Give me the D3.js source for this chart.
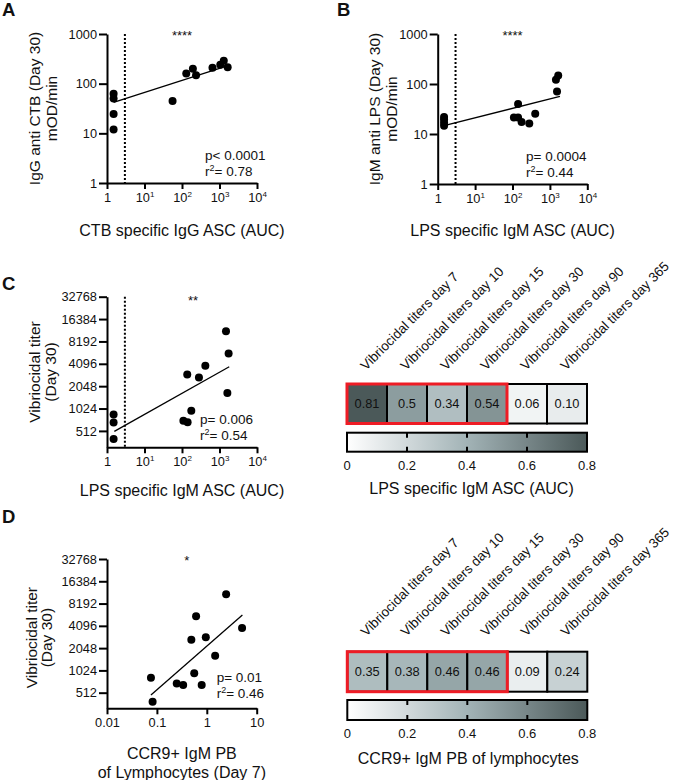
<!DOCTYPE html>
<html><head><meta charset="utf-8">
<script src="https://cdn.jsdelivr.net/npm/d3@7"></script>
<style>
body{margin:0;background:#fff}
svg{display:block}
text{font-family:"Liberation Sans",Arial,sans-serif;fill:#111}
</style>
</head><body>
<svg id="chart" width="675" height="780"></svg>
<script>
// ---------------- DATA ----------------
// Panel A: CTB specific IgG ASC (AUC) vs IgG anti CTB (Day 30)
const aX = [1.5, 1.5, 1.5, 1.5, 56, 130, 195, 237, 650, 1050, 1300, 1650];
const aY = [63, 50, 24.6, 12, 45, 160, 200, 147, 210, 240, 290, 215];
const aFitX = [1.5, 1860];
const aFitY = [42, 235];
// Panel B: LPS specific IgM ASC (AUC) vs IgM anti LPS (Day 30)
const bX = [1.48, 1.48, 1.48, 1.48, 109, 141, 141, 175, 281, 405, 1550, 1450, 1670];
const bY = [22, 19.5, 16.8, 14.6, 21.5, 40, 21.5, 17.4, 16.3, 25.5, 71, 122, 148];
const bFitX = [1.48, 1860];
const bFitY = [14.7, 56.6];
// Panel C: LPS specific IgM ASC (AUC) vs Vibriocidal titer (Day 30)
const cX = [1.5, 1.5, 1.5, 109, 141, 177, 138, 283, 419, 1490, 1750, 1620];
const cY = [850, 662, 399, 699, 670, 955, 2950, 2680, 3870, 11260, 5630, 1660];
const cFitX = [1.57, 1820];
const cFitY = [505, 3740];
// Panel D: CCR9+ IgM PB of lymphocytes (Day 7) vs Vibriocidal titer (Day 30)
const dX = [0.076, 0.082, 0.25, 0.336, 0.49, 0.61, 0.56, 0.955, 0.79, 1.47, 2.44, 5.09];
const dY = [813, 387, 683, 650, 2650, 5510, 935, 2880, 650, 1620, 10960, 3820];
const dFitX = [0.076, 5.17];
const dFitY = [477, 5750];

const ascTicks = [1, 10, 100, 1000, 10000];
const odTicks = [1, 10, 100, 1000];
const titerTicks = [512, 1024, 2048, 4096, 8192, 16384, 32768];
const pbTicks = [0.01, 0.1, 1, 10];
const pbTickLabels = ["0.01", "0.1", "1", "10"];

// Heatmaps
const heatCols = ["Vibriocidal titers day 7", "Vibriocidal titers day 10", "Vibriocidal titers day 15",
                  "Vibriocidal titers day 30", "Vibriocidal titers day 90", "Vibriocidal titers day 365"];
const heatCValues = [0.81, 0.5, 0.34, 0.54, 0.06, 0.10];
const heatCLabels = ["0.81", "0.5", "0.34", "0.54", "0.06", "0.10"];
const heatDValues = [0.35, 0.38, 0.46, 0.46, 0.09, 0.24];
const heatDLabels = ["0.35", "0.38", "0.46", "0.46", "0.09", "0.24"];
const highlightCount = 4;
const cbarTicks = [0, 0.2, 0.4, 0.6, 0.8];
const cbarTickLabels = ["0", "0.2", "0.4", "0.6", "0.8"];

// ---------------- DRAWING ----------------
const svg = d3.select('#chart');
const FONT = '"Liberation Sans", Arial, sans-serif';

function panelLetter(t, x, y) {
  svg.append('text').attr('x', x).attr('y', y).attr('font-size', 18.5).attr('font-weight', 'bold').text(t);
}

function scatter(o) {
  const g = svg.append('g');
  const x = d3.scaleLog().domain(o.xDomain).range(o.xRange);
  const y = d3.scaleLog().base(o.yBase).domain(o.yDomain).range(o.yRange);

  const ya = d3.axisLeft(y).tickValues(o.yTicks).tickFormat(d3.format('d'))
      .tickSize(8).tickPadding(2).tickSizeOuter(0);
  const yg = g.append('g').attr('transform', `translate(${o.xRange[0]},0)`).call(ya);
  const xa = d3.axisBottom(x).tickValues(o.xTicks).tickSize(6).tickPadding(4).tickSizeOuter(0);
  const xg = g.append('g').attr('transform', `translate(0,${o.yRange[0]})`).call(xa);

  [yg, xg].forEach(a => {
    a.attr('font-family', FONT).attr('font-size', 12.8);
    a.selectAll('.domain,.tick line').attr('stroke', '#000').attr('stroke-width', 2);
    a.selectAll('.tick text').attr('fill', '#111');
  });
  if (o.xSup) {
    xg.selectAll('.tick text').each(function(d) {
      const t = d3.select(this);
      if (d === 1) { t.text('1'); return; }
      const e = Math.round(Math.log10(d));
      t.text(null);
      t.append('tspan').text('10');
      t.append('tspan').attr('font-size', 8).attr('dy', -5).text(e);
    });
  } else {
    xg.selectAll('.tick text').text((d, i) => o.xTickLabels[i]);
  }

  if (o.cutoff) {
    g.append('line').attr('x1', x(o.cutoff)).attr('x2', x(o.cutoff))
      .attr('y1', o.yRange[1]).attr('y2', o.yRange[0])
      .attr('stroke', '#000').attr('stroke-width', 2).attr('stroke-dasharray', '2,2');
  }
  g.append('line').attr('x1', x(o.fitX[0])).attr('y1', y(o.fitY[0]))
    .attr('x2', x(o.fitX[1])).attr('y2', y(o.fitY[1]))
    .attr('stroke', '#000').attr('stroke-width', 1.3);

  g.selectAll('circle.pt').data(o.xs.map((v, i) => [v, o.ys[i]])).join('circle')
    .attr('class', 'pt').attr('cx', d => x(d[0])).attr('cy', d => y(d[1])).attr('r', 4).attr('fill', '#000');

  // stars
  g.append('text').attr('x', o.star[0]).attr('y', o.star[1]).attr('text-anchor', 'middle')
    .attr('font-size', 13).text(o.star[2]);
  // stats
  g.append('text').attr('x', o.stat[0]).attr('y', o.stat[1]).attr('font-size', 13.5).text(o.pText);
  const r = g.append('text').attr('x', o.stat[0]).attr('y', o.stat[1] + 16).attr('font-size', 13.5);
  r.append('tspan').text('r');
  r.append('tspan').attr('font-size', 9).attr('dy', -5).text('2');
  r.append('tspan').attr('dy', 5).text('= ' + o.r2);

  // y title
  const cy = (o.yRange[0] + o.yRange[1]) / 2 + (o.yTitleShift || 0);
  o.yTitle.forEach((t, i) => {
    g.append('text').attr('transform', `translate(${o.yTitleX[i]},${cy}) rotate(-90)`)
      .attr('text-anchor', 'middle').attr('font-size', 15.5).text(t);
  });
  // x title
  const cx = (o.xRange[0] + o.xRange[1]) / 2;
  o.xTitle.forEach((t, i) => {
    g.append('text').attr('x', cx).attr('y', o.xTitleY + i * 19).attr('text-anchor', 'middle')
      .attr('font-size', 16).text(t);
  });
}

const heatColor = d3.scaleLinear().domain([0, 0.4, 0.8]).range(['#ffffff', '#a2b3b6', '#4b5959']).clamp(true);

function heatmap(o) {
  const g = svg.append('g');
  const x = d3.scaleBand().domain(heatCols).range([o.x0, o.x1]);
  const bw = x.bandwidth();
  // column labels
  heatCols.forEach(c => {
    g.append('text').attr('transform', `translate(${x(c) + bw / 2 - 1},${o.labelY}) rotate(-45)`)
      .attr('font-size', 13.5).text(c);
  });
  // cells
  heatCols.forEach((c, i) => {
    g.append('rect').attr('x', x(c)).attr('y', o.y0).attr('width', bw).attr('height', o.h)
      .attr('fill', heatColor(o.values[i])).attr('stroke', '#000').attr('stroke-width', 2);
    g.append('text').attr('x', x(c) + bw / 2).attr('y', o.y0 + o.h / 2).attr('dy', '0.35em')
      .attr('text-anchor', 'middle').attr('font-size', 12.8).attr('fill', '#1a1a1a').text(o.labels[i]);
  });
  // highlight box
  g.append('rect').attr('x', o.x0).attr('y', o.y0)
    .attr('width', x(heatCols[highlightCount - 1]) + bw - o.x0).attr('height', o.h)
    .attr('fill', 'none').attr('stroke', '#ee1c25').attr('stroke-width', 3);

  // colorbar
  const gid = 'grad' + o.id;
  const grad = svg.append('defs').append('linearGradient').attr('id', gid);
  [0, 0.25, 0.5, 0.75, 1].forEach(f => {
    grad.append('stop').attr('offset', f).attr('stop-color', heatColor(f * 0.8));
  });
  const cs = d3.scaleLinear().domain([0, 0.8]).range([o.x0, o.x1]);
  g.append('rect').attr('x', o.x0).attr('y', o.cbY).attr('width', o.x1 - o.x0).attr('height', o.cbH)
    .attr('fill', `url(#${gid})`).attr('stroke', '#000').attr('stroke-width', 2);
  cbarTicks.forEach((t, i) => {
    if (i > 0 && i < cbarTicks.length - 1) {
      g.append('line').attr('x1', cs(t)).attr('x2', cs(t)).attr('y1', o.cbY).attr('y2', o.cbY + 5)
        .attr('stroke', '#000').attr('stroke-width', 2);
      g.append('line').attr('x1', cs(t)).attr('x2', cs(t)).attr('y1', o.cbY + o.cbH - 5).attr('y2', o.cbY + o.cbH)
        .attr('stroke', '#000').attr('stroke-width', 2);
    }
    g.append('text').attr('x', cs(t)).attr('y', o.cbY + o.cbH + 18).attr('text-anchor', 'middle')
      .attr('font-size', 13).text(cbarTickLabels[i]);
  });
  g.append('text').attr('x', o.titleX).attr('y', o.titleY).attr('text-anchor', 'middle')
    .attr('font-size', 16).text(o.title);
}

// Panel letters
panelLetter('A', 2, 16);
panelLetter('B', 337, 16);
panelLetter('C', 2, 290);
panelLetter('D', 2, 523);

scatter({
  xs: aX, ys: aY, fitX: aFitX, fitY: aFitY,
  xDomain: [1, 10000], xRange: [107, 257], yBase: 10, yDomain: [1, 1000], yRange: [183, 34],
  yTicks: odTicks, xTicks: ascTicks, xSup: true, cutoff: 3,
  star: [182, 40, '****'], stat: [205, 160], pText: 'p< 0.0001', r2: '0.78',
  yTitle: ['IgG anti CTB (Day 30)', 'mOD/min'], yTitleX: [40, 57],
  xTitle: ['CTB specific IgG ASC (AUC)'], xTitleY: 236
});
scatter({
  xs: bX, ys: bY, fitX: bFitX, fitY: bFitY,
  xDomain: [1, 10000], xRange: [437.7, 587.3], yBase: 10, yDomain: [1, 1000], yRange: [184, 34],
  yTicks: odTicks, xTicks: ascTicks, xSup: true, cutoff: 3,
  star: [512.5, 40, '****'], stat: [526, 161], pText: 'p= 0.0004', r2: '0.44',
  yTitle: ['IgM anti LPS (Day 30)', 'mOD/min'], yTitleX: [380, 397],
  xTitle: ['LPS specific IgM ASC (AUC)'], xTitleY: 236
});
scatter({
  xs: cX, ys: cY, fitX: cFitX, fitY: cFitY,
  xDomain: [1, 10000], xRange: [107, 257], yBase: 2, yDomain: [308, 32768], yRange: [447.3, 296.7],
  yTicks: titerTicks, xTicks: ascTicks, xSup: true, cutoff: 3,
  star: [193, 305, '**'], stat: [200, 424], pText: 'p= 0.006', r2: '0.54',
  yTitle: ['Vibriocidal titer', '(Day 30)'], yTitleX: [40, 56],
  xTitle: ['LPS specific IgM ASC (AUC)'], xTitleY: 495.5
});
scatter({
  xs: dX, ys: dY, fitX: dFitX, fitY: dFitY,
  xDomain: [0.01, 10], xRange: [107, 256.7], yBase: 2, yDomain: [315, 32768], yRange: [708.3, 559],
  yTicks: titerTicks, xTicks: pbTicks, xSup: false, xTickLabels: pbTickLabels, cutoff: null,
  star: [186.7, 565, '*'], stat: [216.7, 681.5], pText: 'p= 0.01', r2: '0.46',
  yTitle: ['Vibriocidal titer', '(Day 30)'], yTitleX: [36.5, 52], yTitleShift: 4,
  xTitle: ['CCR9+ IgM PB', 'of Lymphocytes (Day 7)'], xTitleY: 758.5
});

heatmap({
  id: 'C', values: heatCValues, labels: heatCLabels,
  x0: 347, x1: 587, y0: 384, h: 39.5, labelY: 371, cbY: 432.7, cbH: 19,
  title: 'LPS specific IgM ASC (AUC)', titleX: 471.5, titleY: 494
});
heatmap({
  id: 'D', values: heatDValues, labels: heatDLabels,
  x0: 347.3, x1: 587.3, y0: 651.7, h: 40, labelY: 637, cbY: 700, cbH: 20,
  title: 'CCR9+ IgM PB of lymphocytes', titleX: 468.3, titleY: 764
});
</script>
</body></html>
